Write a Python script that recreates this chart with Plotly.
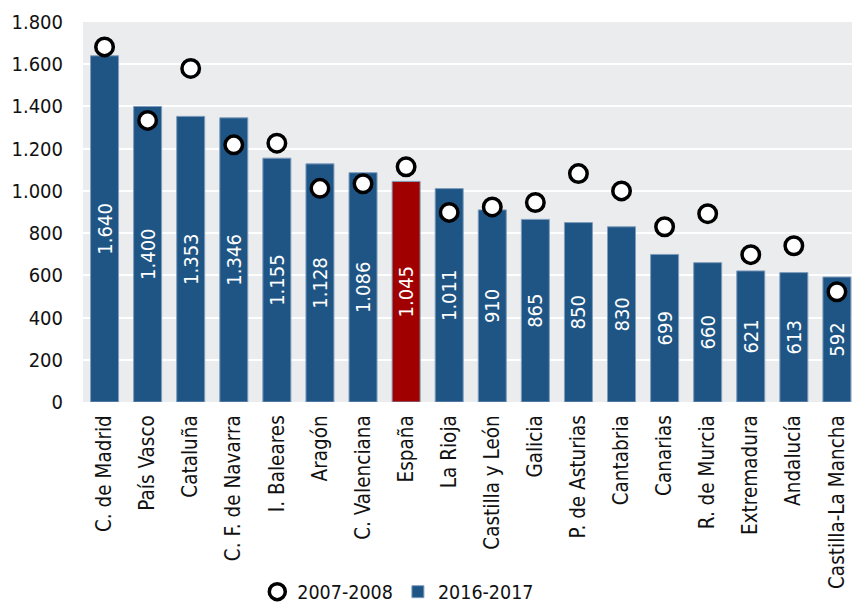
import plotly.graph_objects as go

categories = ["C. de Madrid", "País Vasco", "Cataluña", "C. F. de Navarra", "I. Baleares",
              "Aragón", "C. Valenciana", "España", "La Rioja", "Castilla y León", "Galicia",
              "P. de Asturias", "Cantabria", "Canarias", "R. de Murcia", "Extremadura",
              "Andalucía", "Castilla-La Mancha"]
values_2016 = [1640, 1400, 1353, 1346, 1155, 1128, 1086, 1045, 1011, 910, 865, 850, 830, 699,
               660, 621, 613, 592]
values_2007 = [1682, 1334, 1580, 1218, 1226, 1012, 1034, 1114, 898, 924, 945, 1082, 1000, 830,
               892, 698, 740, 522]
highlight = "España"

blue = "#1f5585"
red = "#a00000"
bar_colors = [red if c == highlight else blue for c in categories]
FONT = "DejaVu Sans Condensed, DejaVu Sans"

fig = go.Figure()
fig.add_trace(go.Scatter(
    x=categories, y=values_2007, mode="markers", name="2007-2008",
    marker=dict(symbol="circle", size=17.5, color="white", line=dict(color="black", width=3.5)),
    cliponaxis=False,
))
fig.add_trace(go.Bar(
    x=categories, y=values_2016, name="2016-2017",
    marker=dict(color=bar_colors, line=dict(color="#7f9dbd", width=1)),
    width=0.65,
    texttemplate="%{y:,d}", textposition="inside", insidetextanchor="middle",
    textangle=-90, constraintext="none",
    textfont=dict(family=FONT, size=20, color="white"),
))

fig.update_layout(
    width=852, height=605,
    margin=dict(l=83, r=0, t=22, b=203, autoexpand=False),
    paper_bgcolor="white", plot_bgcolor="#ebecee",
    separators=",.",
    font=dict(family=FONT, size=20, color="#111111"),
    showlegend=True,
    legend=dict(orientation="h", x=0.41, xanchor="center", y=-0.50, yanchor="middle",
                font=dict(family=FONT, size=19.5, color="#111111"), itemwidth=30,
                traceorder="normal", tracegroupgap=0),
)
fig.update_xaxes(
    range=[-0.5, 17.35], tickangle=-90, showgrid=False, showline=False,
    ticks="outside", ticklen=4, tickcolor="rgba(0,0,0,0)", automargin=False,
    tickfont=dict(family=FONT, size=20.5, color="#111111"),
)
fig.update_yaxes(
    range=[0, 1800], dtick=200, tickformat=",d", showgrid=True, gridcolor="white",
    gridwidth=2, zeroline=False, showline=False, automargin=False,
    ticks="outside", ticklen=15, tickcolor="rgba(0,0,0,0)",
    tickfont=dict(family=FONT, size=20, color="#111111"),
)

fig.write_html(
    "out.html",
    config={"displayModeBar": False, "staticPlot": True},
    post_script="document.body.style.margin='0';document.body.style.overflow='hidden';",
)
